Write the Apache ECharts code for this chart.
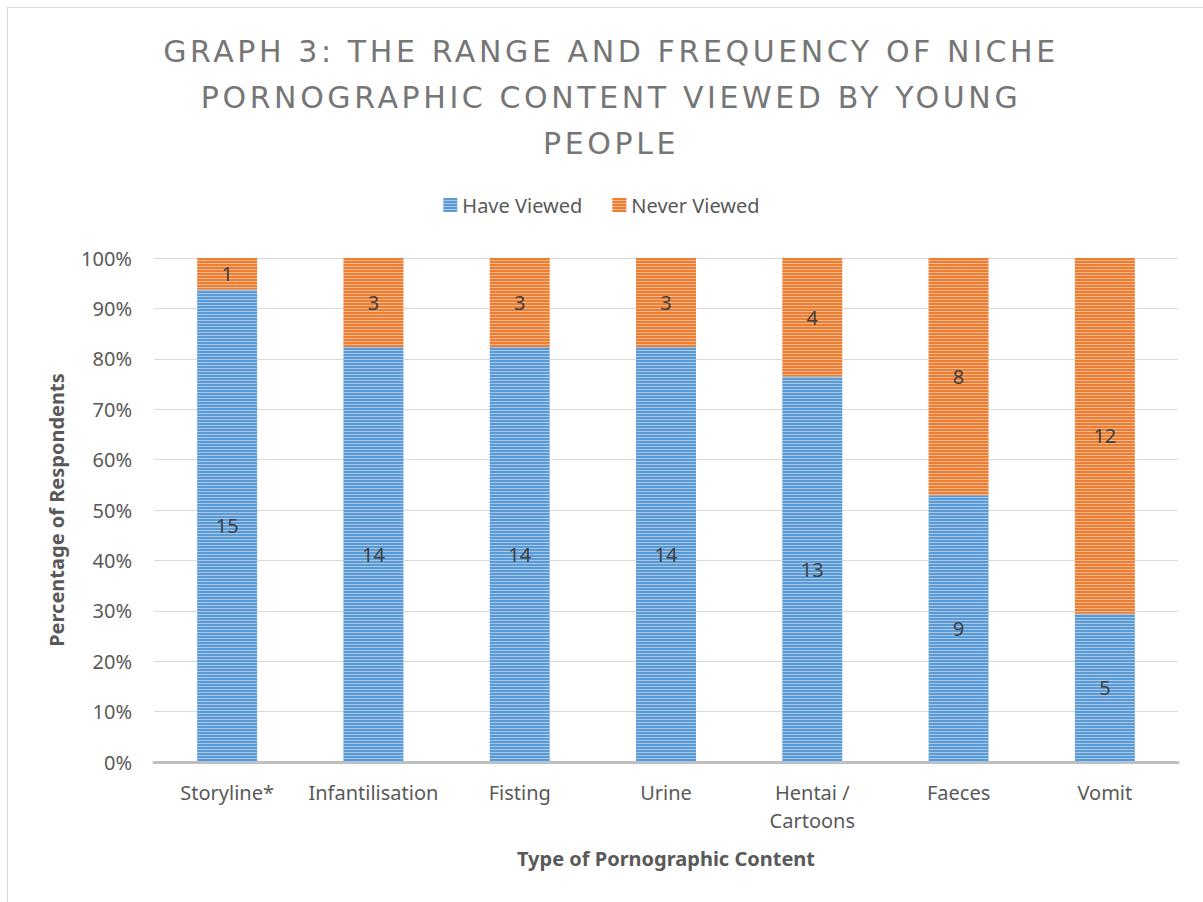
<!DOCTYPE html>
<html>
<head>
<meta charset="utf-8">
<script src="https://cdn.jsdelivr.net/npm/echarts@6/dist/echarts.min.js"></script>
<style>
  html, body { margin: 0; padding: 0; background: #fff; }
  #frame { position: absolute; left: 7px; top: 7px; width: 1210px; height: 900px; border: 1px solid #d9d9d9; }
  #chart { position: absolute; left: 0; top: 0; width: 1203px; height: 902px; }
</style>
</head>
<body>
<div id="frame"></div>
<div id="chart"></div>
<script>
var categories = ['Storyline*', 'Infantilisation', 'Fisting', 'Urine', 'Hentai / Cartoons', 'Faeces', 'Vomit'];
var haveViewed = [15, 14, 14, 14, 13, 9, 5];
var neverViewed = [1, 3, 3, 3, 4, 8, 12];
var yTicks = [0, 10, 20, 30, 40, 50, 60, 70, 80, 90, 100];
var titleLines = ['GRAPH 3: THE RANGE AND FREQUENCY OF NICHE', 'PORNOGRAPHIC CONTENT VIEWED BY YOUNG', 'PEOPLE'];

// striped fill like the original bars
function stripes(base) {
    var c = document.createElement('canvas');
    c.width = 3; c.height = 3;
    var ctx = c.getContext('2d');
    ctx.fillStyle = base;
    ctx.fillRect(0, 0, 3, 3);
    ctx.fillStyle = 'rgba(255,255,255,0.45)';
    ctx.fillRect(0, 2, 3, 1);
    return { image: c, repeat: 'repeat' };
}

function pct(list, i) {
    var total = haveViewed[i] + neverViewed[i];
    return { value: list[i] / total * 100, count: list[i] };
}

var haveData = haveViewed.map(function (v, i) { return pct(haveViewed, i); });
var neverData = neverViewed.map(function (v, i) { return pct(neverViewed, i); });

var font = 'Noto Sans';
var labelStyle = {
    show: true,
    position: 'inside',
    fontFamily: font,
    fontSize: 20,
    color: '#404040',
    formatter: function (p) { return p.data.count; }
};

var chart = echarts.init(document.getElementById('chart'), null, { renderer: 'svg' });
chart.setOption({
    animation: false,
    title: {
        text: titleLines.join('\n'),
        left: 606,
        top: 23,
        textAlign: 'center',
        textStyle: {
            fontFamily: 'DejaVu Sans',
            fontWeight: 'normal',
            fontSize: 30,
            lineHeight: 46,
            color: '#767676'
        }
    },
    legend: {
        data: ['Have Viewed', 'Never Viewed'],
        top: 190,
        left: 'center',
        icon: 'rect',
        itemWidth: 14,
        itemHeight: 14,
        itemGap: 30,
        textStyle: { fontFamily: font, fontSize: 20, color: '#595959' }
    },
    grid: { left: 154, right: 25, top: 258, bottom: 140 },
    xAxis: {
        type: 'category',
        data: categories,
        name: 'Type of Pornographic Content',
        nameLocation: 'middle',
        nameGap: 86,
        nameTextStyle: { fontFamily: font, fontWeight: 'bold', fontSize: 20, color: '#595959' },
        axisLine: { lineStyle: { color: '#bfbfbf', width: 3 } },
        axisTick: { show: false },
        axisLabel: {
            margin: 16,
            fontFamily: font,
            fontSize: 20,
            lineHeight: 28,
            color: '#595959',
            interval: 0,
            formatter: function (v) { return v.replace(' / ', ' /\n'); }
        }
    },
    yAxis: {
        type: 'value',
        min: yTicks[0],
        max: yTicks[yTicks.length - 1],
        interval: yTicks[1] - yTicks[0],
        name: 'Percentage of Respondents',
        nameLocation: 'middle',
        nameGap: 88,
        nameTextStyle: { fontFamily: font, fontWeight: 'bold', fontSize: 20, color: '#595959' },
        axisLine: { show: false },
        axisTick: { show: false },
        axisLabel: {
            margin: 22,
            fontFamily: font,
            fontSize: 20,
            color: '#595959',
            formatter: '{value}%'
        },
        splitLine: { lineStyle: { color: '#d9d9d9', width: 1 } }
    },
    series: [
        {
            name: 'Have Viewed',
            type: 'bar',
            stack: 'total',
            barWidth: '41%',
            data: haveData,
            itemStyle: { color: stripes('#5b9bd5') },
            label: labelStyle
        },
        {
            name: 'Never Viewed',
            type: 'bar',
            stack: 'total',
            barWidth: '41%',
            data: neverData,
            itemStyle: { color: stripes('#ed7d31') },
            label: labelStyle
        }
    ]
});

// the original title is letter-spaced
function spaceTitle() {
    document.querySelectorAll('#chart text').forEach(function (t) {
        if (titleLines.indexOf(t.textContent) >= 0) {
            t.style.letterSpacing = '3.6px';
        }
    });
}
spaceTitle();
chart.on('finished', spaceTitle);
</script>
</body>
</html>
